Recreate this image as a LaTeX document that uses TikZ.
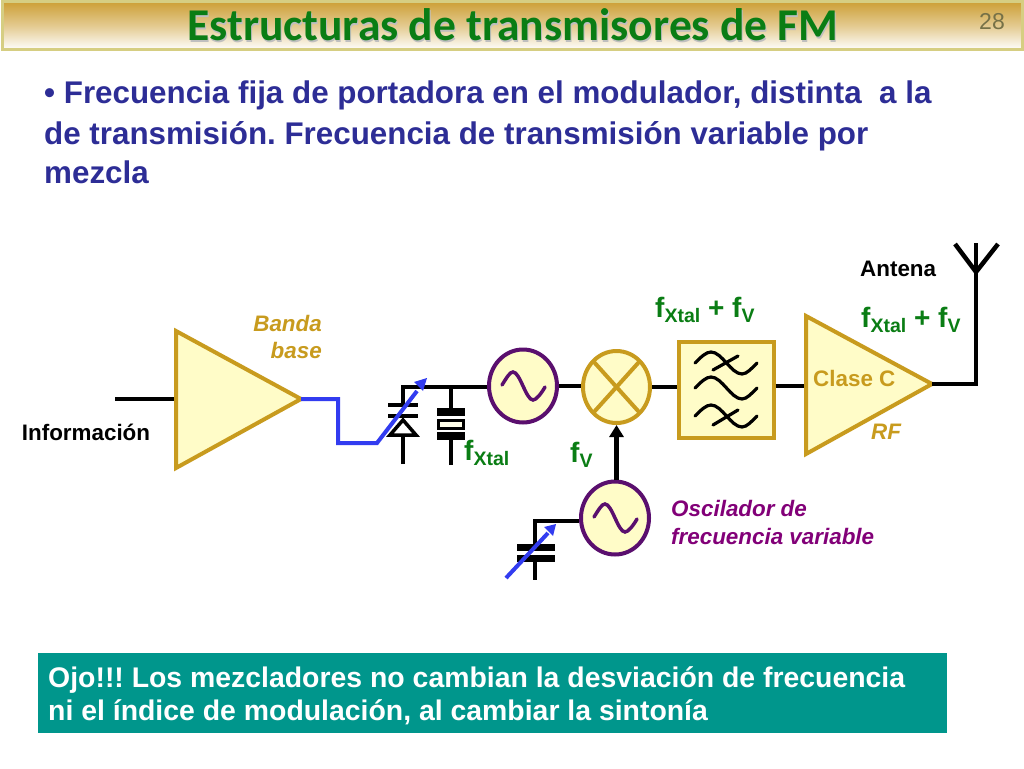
\documentclass[tikz,border=0pt]{standalone}
\usepackage{fontspec}
\setmainfont{Liberation Sans}
\newfontfamily\titlefont{Carlito}
\usetikzlibrary{arrows.meta,shapes.geometric}
\frenchspacing
\definecolor{gold}{RGB}{200,155,30}
\definecolor{paleyellow}{RGB}{255,252,200}
\definecolor{purp}{RGB}{90,15,110}
\definecolor{grn}{RGB}{10,125,20}
\definecolor{bluetxt}{RGB}{45,45,150}
\definecolor{bluewire}{RGB}{50,60,240}
\definecolor{teal2}{RGB}{0,150,140}
\definecolor{magenta2}{RGB}{130,0,120}
\definecolor{titletop}{RGB}{205,160,55}
\definecolor{titleedge}{RGB}{214,206,130}
\tikzset{
  x=1pt,y=-1pt,
  wire/.style={line width=4.5pt,black},
  thinwire/.style={line width=3.2pt,black},
  bluew/.style={line width=4pt,bluewire},
  plate/.style={line width=4pt,black},
  amp/.style={draw=gold,fill=paleyellow,line width=4pt,line join=miter},
  osc/.style={ellipse,draw=purp,fill=paleyellow,line width=4pt,minimum width=68pt,minimum height=73pt,inner sep=0pt},
  mixer/.style={ellipse,draw=gold,fill=paleyellow,line width=4pt,minimum width=67pt,minimum height=72pt,inner sep=0pt},
  filt/.style={rectangle,draw=gold,fill=paleyellow,line width=4pt,minimum width=95pt,minimum height=96pt,inner sep=0pt},
  freq/.style={text=grn,font=\fontsize{28}{28}\selectfont\bfseries,anchor=base west,inner sep=0pt},
  lab/.style={font=\fontsize{22.4}{25}\selectfont\bfseries,inner sep=0pt},
  body/.style={font=\fontsize{31.35}{41}\selectfont\bfseries,text=bluetxt,anchor=base west,inner sep=0pt},
  boxt/.style={font=\fontsize{28.4}{35}\selectfont\bfseries,text=white,anchor=base west,inner sep=0pt},
  ttl/.style={font=\titlefont\fontsize{45.5}{45}\selectfont\bfseries,anchor=base,inner sep=0pt},
  sinep/.style={purp,line width=3.5pt,line cap=round},
  filtc/.style={black,line width=3.2pt,line cap=round},
}
\newcommand{\fs}[1]{f\raisebox{-5pt}{\fontsize{19.5}{19.5}\selectfont #1}}
\newcommand{\sinewave}[2]{%
  \draw[sinep] (#1-21,#2-1) .. controls (#1-16,#2-9) and (#1-13,#2-14) .. (#1-10,#2-14) .. controls (#1-3,#2-14) and (#1+3,#2+14) .. (#1+10,#2+14) .. controls (#1+13,#2+14) and (#1+18,#2+8) .. (#1+22,#2+1);}
\begin{document}
\begin{tikzpicture}
\useasboundingbox (0,0) rectangle (1024,768);
\fill[white] (0,0) rectangle (1024,768);
% title bar
\shade[top color=titletop,bottom color=white,middle color=titletop!55!white,draw=none] (2,2) rectangle (1022,50);
\draw[titleedge,line width=3pt] (2,2) rectangle (1022,50);
\node[ttl,text=black!25] at (514,42) {Estructuras de transmisores de FM};
\node (title) [ttl,text=grn] at (513,41) {Estructuras de transmisores de FM};
\node (pg) [text=black!45!titleedge,font=\fontsize{23}{23}\selectfont,anchor=base,inner sep=0pt] at (992,30) {28};
% body
\node (b1) [body] at (44,103) {• Frecuencia fija de portadora en el modulador, distinta~ a la};
\node (b2) [body] at (44,144) {de transmisión. Frecuencia de transmisión variable por};
\node (b3) [body] at (44,183) {mezcla};
% teal box
\node (ojo) [fill=teal2,minimum width=909pt,minimum height=80pt,anchor=north west,inner sep=0pt] at (38,653) {};
\node (o1) [boxt] at (48,687) {Ojo!!! Los mezcladores no cambian la desviación de frecuencia};
\node (o2) [boxt] at (48,720) {ni el índice de modulación, al cambiar la sintonía};
% coordinates
\coordinate (inL) at (115,399);
\coordinate (ampin) at (176,399);
\coordinate (ampout) at (301,399);
\coordinate (bw1) at (338,399);
\coordinate (bw2) at (338,443);
\coordinate (bw3) at (377,443);
\coordinate (bwtip) at (427,378);
\coordinate (jD) at (403,387);
\coordinate (jX) at (451,387);
\coordinate (dbot) at (403,464);
\coordinate (xbot) at (451,465);
% wires behind blocks
\draw[wire] (inL) -- (ampin);
\draw[wire] (dbot) -- (403,435);
\draw[wire,line join=miter] (403,405) -- (jD) -- (jX) -- (522,387);
\draw[wire] (jX) -- (451,410);
\draw[wire] (xbot) -- (451,438);
% amp
\draw[amp] (176,331) -- (301,399) -- (176,468) -- cycle;
% varicap
\draw[plate] (388,405) -- (418,405);
\draw[plate] (388,416) -- (418,416);
\draw[black,line width=3.5pt,line join=miter,fill=white] (403,420) -- (416,435) -- (390,435) -- cycle;
\draw[bluew,line join=miter] (ampout) -- (bw1) -- (bw2) -- (bw3) -- (417,391);
\fill[bluewire] (bwtip) -- (414,382) -- (423,391) -- cycle;
% crystal
\draw[black,line width=8pt] (437,412) -- (465,412);
\draw[black,line width=8pt] (437,435.5) -- (465,435.5);
\draw[black,fill=paleyellow!40!white,line width=3pt] (438.5,420) rectangle (463.5,428);
% oscillator 1
\node (o1c) [osc] at (523,386) {};
\sinewave{523}{386}
% mixer
\node (mx) [mixer] at (616.5,387) {};
\draw[gold,line width=4pt] (594,362) -- (639,412);
\draw[gold,line width=4pt] (639,362) -- (594,412);
% filter
\node (fl) [filt] at (726,390) {};
\draw[wire] (o1c.east) -- (mx.west |- o1c.east);
\draw[wire] (mx.east) -- (fl.west |- mx.east);
\foreach \yy in {363,388,416}{
  \draw[filtc] (695,\yy) .. controls (701,\yy-6) and (706,\yy-11) .. (711,\yy-11) .. controls (722,\yy-11) and (731,\yy+11) .. (742,\yy+11) .. controls (747,\yy+11) and (752,\yy+5) .. (757,\yy);
}
\draw[filtc] (713,370) -- (738,356);
\draw[filtc] (713,425) -- (738,410);
% amp 2
\coordinate (a2in) at (806,386);
\draw[wire] (fl.east |- a2in) -- (a2in);
\draw[amp] (806,316) -- (932,384) -- (806,454) -- cycle;
\coordinate (a2out) at (932,384);
\coordinate (ant) at (976,384);
\coordinate (anttop) at (976,272);
\coordinate (antL) at (955,244);
\coordinate (antR) at (998,244);
\coordinate (antM) at (976,243);
\draw[wire,line join=miter] (a2out) -- (ant) -- (antM);
\draw[wire,line join=miter] (antL) -- (anttop) -- (antR);
% oscillator 2
\node (o2c) [osc] at (615,518) {};
\sinewave{615}{518}
\draw[wire,-{Triangle[length=12pt,width=14pt]}] (o2c.north -| mx.south) -- (mx.south);
\coordinate (o2L) at (535,521);
\draw[thinwire,line join=miter] (o2c.west |- o2L) -- (o2L) -- (535,544);
\draw[thinwire] (535,560) -- (535,580);
\draw[black,line width=7pt] (517,547.5) -- (555,547.5);
\draw[black,line width=7pt] (517,558.5) -- (555,558.5);
\draw[bluew] (506,578) -- (548,533);
\fill[bluewire] (556,524) -- (544,527) -- (553,536) -- cycle;
% labels
\node (info) [lab,anchor=base] at (86,440) {Información};
\node (bb1) [lab,anchor=base east,text=gold,font=\fontsize{22.4}{25}\selectfont\bfseries\itshape] at (322,331) {Banda};
\node (bb2) [lab,anchor=base east,text=gold,font=\fontsize{22.4}{25}\selectfont\bfseries\itshape] at (322,358) {base};
\node (fx) [freq] at (464,460) {\fs{Xtal}};
\node (fv) [freq] at (570,462) {\fs{V}};
\node (fxv1) [freq] at (655,317) {\fs{Xtal} + \fs{V}};
\node (fxv2) [freq] at (861,327) {\fs{Xtal} + \fs{V}};
\node (ant1) [lab,anchor=base west] at (860,276) {Antena};
\node (cc) [lab,anchor=base west,text=gold] at (813,386) {Clase C};
\node (rf) [lab,anchor=base west,text=gold,font=\fontsize{22.4}{25}\selectfont\bfseries\itshape] at (871,439) {RF};
\node (os1) [lab,anchor=base west,text=magenta2,font=\fontsize{22.4}{25}\selectfont\bfseries\itshape] at (671,516) {Oscilador de};
\node (os2) [lab,anchor=base west,text=magenta2,font=\fontsize{22.4}{25}\selectfont\bfseries\itshape] at (671,544) {frecuencia variable};
\end{tikzpicture}
\end{document}
